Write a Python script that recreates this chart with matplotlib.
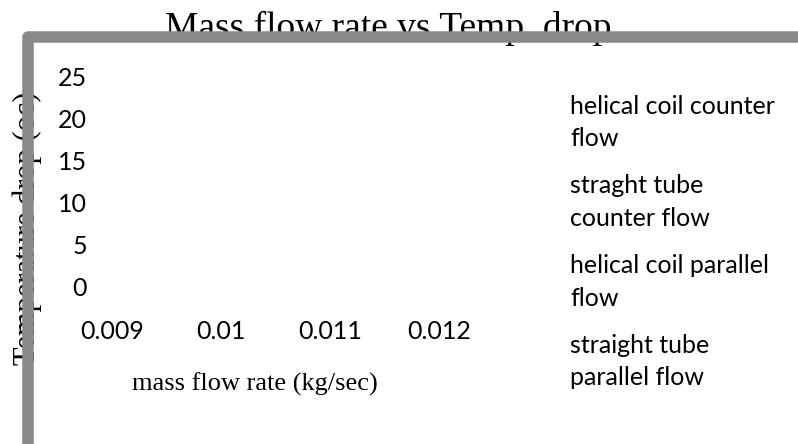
import matplotlib
matplotlib.use("Agg")
from matplotlib import pyplot as plt
from matplotlib.lines import Line2D

W, H = 798, 444
SERIF = "Liberation Serif"
SANS = "Lato"
FRAME = "#898989"

mass_flow = ["0.009", "0.01", "0.011", "0.012"]
temp_ticks = [0, 5, 10, 15, 20, 25]
series_names = ["helical coil counter\nflow",
                "straght tube\ncounter flow",
                "helical coil parallel\nflow",
                "straight tube\nparallel flow"]

fig = plt.figure(figsize=(W / 100, H / 100), dpi=100)


def px(x, y):
    return x / W, 1 - y / H


# plot area: category 0 sits at x=112.5 px, step 108.8 px
left, right = 90, 500
bot, top = 286.5, 76.5
ax = fig.add_axes([left / W, 1 - bot / H, (right - left) / W, (bot - top) / H])
ax.patch.set_visible(False)
for s in ax.spines.values():
    s.set_visible(False)

# series have no visible marks in the reference, only legend entries
for name in series_names:
    ax.plot([], [], label=name)

step = 108.8
ax.set_xlim(-(112.5 - left) / step, (right - 112.5) / step)
ax.set_ylim(temp_ticks[0], temp_ticks[-1])
ax.set_xticks(range(len(mass_flow)))
ax.set_xticklabels(mass_flow)
ax.set_yticks(temp_ticks)
ax.tick_params(axis="both", length=0, labelsize=18)
ax.tick_params(axis="x", pad=24)
ax.tick_params(axis="y", pad=2)
for lab in ax.get_xticklabels() + ax.get_yticklabels():
    lab.set_fontfamily(SANS)

leg = fig.legend(loc="center left", bbox_to_anchor=px(570, 242),
                 frameon=False, handlelength=0, handletextpad=0,
                 borderpad=0, borderaxespad=0, labelspacing=0.97,
                 prop={"family": SANS, "size": 18})
for t in leg.get_texts():
    t.set_linespacing(1.5)

# title and y label sit behind the gray frame
fig.text(*px(388, 28), "Mass flow rate vs Temp. drop", family=SERIF,
         fontsize=27, ha="center", va="center", zorder=1)
fig.text(*px(27.5, 228), "Temperature drop (oc)", family=SERIF,
         fontsize=22, rotation=90, ha="center", va="center", zorder=1)
fig.text(*px(255, 384), "mass flow rate (kg/sec)", family=SERIF,
         fontsize=19, ha="center", va="center")

frame = Line2D([27.5 / W, 27.5 / W, 1.01], [-0.01, 1 - 37 / H, 1 - 37 / H],
               transform=fig.transFigure, color=FRAME, linewidth=8.3,
               solid_joinstyle="round", zorder=5)
fig.add_artist(frame)

fig.savefig("out.png", dpi=100)
